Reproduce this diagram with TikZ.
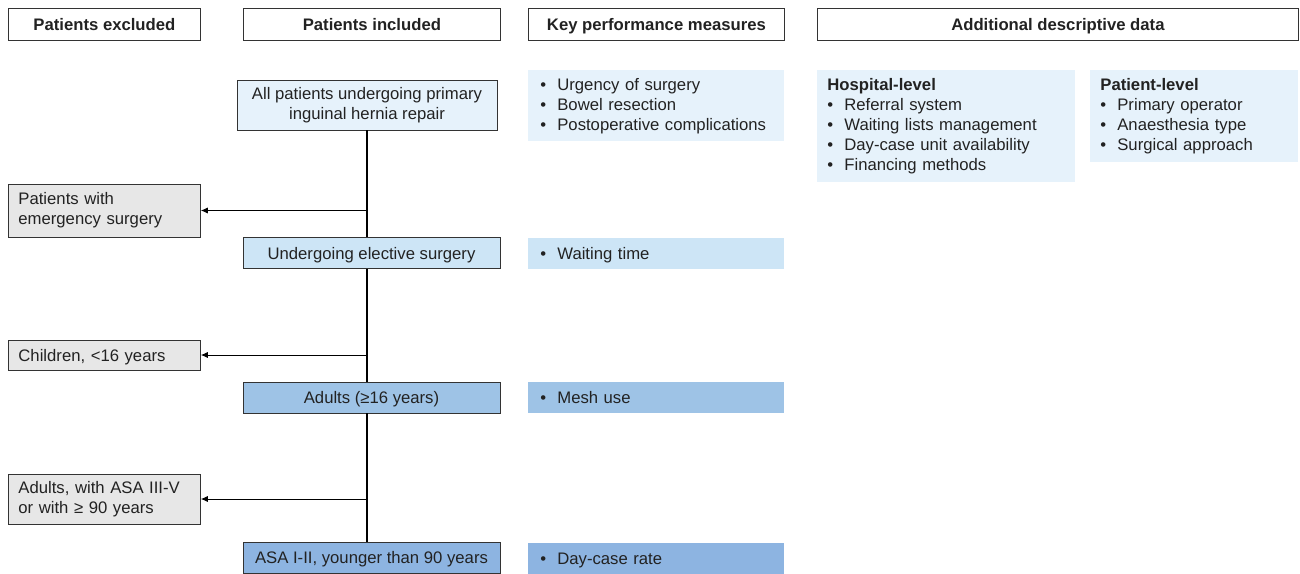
\documentclass[tikz,border=0pt]{standalone}
\usepackage{fontspec}
\setmainfont{Liberation Sans}
\usetikzlibrary{arrows.meta}

\definecolor{textgrey}{HTML}{222222}
\definecolor{linegrey}{HTML}{333333}
\definecolor{exclgrey}{HTML}{E7E7E7}
\definecolor{blueA}{HTML}{E6F2FB}
\definecolor{blueB}{HTML}{CDE5F6}
\definecolor{blueC}{HTML}{9EC3E6}
\definecolor{blueD}{HTML}{8DB4E1}

\newcommand{\itm}[1]{\makebox[0.34cm][l]{•}#1}

\begin{document}
\begin{tikzpicture}[x=0.02cm, y=-0.02cm,
    font=\fontsize{9.5}{11.4}\selectfont, text=textgrey,
    oneline/.style={text depth=0pt},
    header/.style={draw=linegrey, line width=0.5pt, anchor=north west, minimum height=0.64cm,
        inner sep=0pt, oneline, font=\fontsize{9.5}{11.4}\selectfont\bfseries},
    flowbox/.style={draw=linegrey, line width=0.5pt, align=center, minimum width=5.14cm,
        minimum height=0.62cm, inner sep=0pt},
    exclbox/.style={draw=linegrey, line width=0.5pt, fill=exclgrey, anchor=west, align=left,
        text width=3.44cm, inner xsep=0.2cm, inner ysep=0pt},
    kpmbox/.style={anchor=north west, align=left, text width=4.64cm, inner xsep=0.24cm,
        inner ysep=0pt, minimum height=0.62cm},
    databox/.style={anchor=north west, align=left, fill=blueA, inner xsep=0.2cm, inner ysep=0pt},
    trunk/.style={draw=black, line width=1.3pt},
    exclarrow/.style={draw=black, line width=0.5pt, -{Latex[length=4pt,width=3.5pt]}}
]
    \useasboundingbox (0,0) rectangle (1300,574);

    % Headers
    \node[header, minimum width=3.84cm] (head_excl) at (8,8) {Patients excluded};
    \node[header, minimum width=5.14cm] (head_incl) at (243,8) {Patients included};
    \node[header, minimum width=5.12cm] (head_kpm) at (528,8) {Key performance measures};
    \node[header, minimum width=9.62cm] (head_data) at (817,8) {Additional descriptive data};

    % Included patients
    \node[flowbox, fill=blueA, minimum width=5.2cm, minimum height=1.0cm] (all_patients) at (367,105)
        {All patients undergoing primary\\inguinal hernia repair};
    \node[flowbox, oneline, fill=blueB] (elective) at (371.5,253) {Undergoing elective surgery};
    \node[flowbox, oneline, fill=blueC] (adults) at (371.5,397.5) {Adults (≥16 years)};
    \node[flowbox, oneline, fill=blueD] (asa_ok) at (371.5,557.5) {ASA I-II, younger than 90 years};

    % Excluded patients
    \node[exclbox, minimum height=1.06cm] (emergency) at (8,210.5) {Patients with\\emergency surgery};
    \node[exclbox, oneline, minimum height=0.6cm] (children) at (8,355) {Children, <16 years};
    \node[exclbox, minimum height=1.0cm] (asa_excl) at (8,499) {Adults, with ASA III-V\\or with ≥ 90 years};

    % Key performance measures
    \node[kpmbox, fill=blueA, minimum height=1.42cm] (kpm_all) at (528,70)
        {\itm{Urgency of surgery}\\\itm{Bowel resection}\\\itm{Postoperative complications}};
    \node[kpmbox, oneline, fill=blueB] (kpm_elective) at (528,238) {\itm{Waiting time}};
    \node[kpmbox, oneline, fill=blueC] (kpm_adults) at (528,382) {\itm{Mesh use}};
    \node[kpmbox, oneline, fill=blueD] (kpm_asa) at (528,543) {\itm{Day-case rate}};

    % Descriptive data
    \node[databox, text width=4.76cm, minimum height=2.24cm] (hospital) at (817,70)
        {\textbf{Hospital-level}\\\itm{Referral system}\\\itm{Waiting lists management}\\
         \itm{Day-case unit availability}\\\itm{Financing methods}};
    \node[databox, text width=3.76cm, minimum height=1.84cm] (patient) at (1090,70)
        {\textbf{Patient-level}\\\itm{Primary operator}\\\itm{Anaesthesia type}\\\itm{Surgical approach}};

    % Lines
    \draw[trunk] (all_patients.south) -- (all_patients.south |- elective.north);
    \draw[trunk] (all_patients.south |- elective.south) -- (all_patients.south |- adults.north);
    \draw[trunk] (all_patients.south |- adults.south) -- (all_patients.south |- asa_ok.north);

    % Arrows
    \draw[exclarrow] (all_patients.south |- emergency.east) -- (emergency.east);
    \draw[exclarrow] (all_patients.south |- children.east) -- (children.east);
    \draw[exclarrow] (all_patients.south |- asa_excl.east) -- (asa_excl.east);
\end{tikzpicture}
\end{document}
